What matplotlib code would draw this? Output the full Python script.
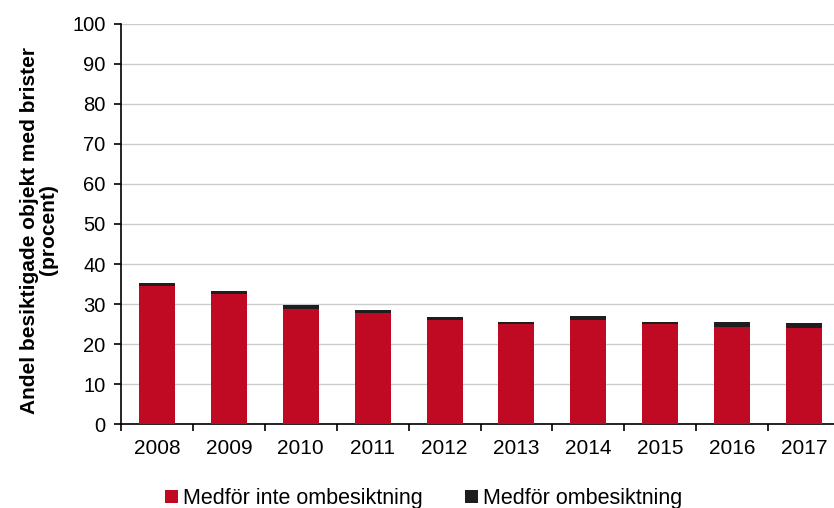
import matplotlib
matplotlib.use("Agg")
import matplotlib.pyplot as plt
import numpy as np

years = ["2008", "2009", "2010", "2011", "2012", "2013", "2014", "2015", "2016", "2017"]
no_reinspection = [34.5, 32.5, 28.8, 27.8, 26.0, 24.9, 26.0, 24.9, 24.3, 24.1]
reinspection = [0.8, 0.7, 0.9, 0.6, 0.7, 0.6, 0.9, 0.6, 1.2, 1.1]

plt.rcParams['font.family'] = ['Liberation Sans', 'DejaVu Sans']

fig = plt.figure(figsize=(8.34, 5.08), dpi=100)
ax = fig.add_axes([121/834, 84/508, 719/834, 400/508])

x = np.arange(len(years))
red = "#C00A23"
blk = "#1E1E1E"
ax.bar(x, no_reinspection, width=0.5, color=red, label="Medför inte ombesiktning", zorder=3)
ax.bar(x, reinspection, width=0.5, bottom=no_reinspection, color=blk, label="Medför ombesiktning", zorder=3)

ax.set_xlim(-0.5, len(years) - 0.5)
ax.set_ylim(0, 100)
ax.set_yticks(np.arange(0, 101, 10))
ax.tick_params(axis='y', labelsize=14.5, length=5, width=1.2, direction='out', pad=6)
ax.set_xticks(np.arange(len(years) + 1) - 0.5)
ax.set_xticklabels([])
ax.set_xticks(x, minor=True)
ax.set_xticklabels(years, minor=True)
ax.tick_params(axis='x', which='major', length=5, width=1.2, direction='out')
ax.tick_params(axis='x', which='minor', length=0, labelsize=15, pad=11)

ax.grid(axis='y', color='#CCCCCC', linewidth=1.0, zorder=0)
for s in ['top', 'right']:
    ax.spines[s].set_visible(False)
for s in ['left', 'bottom']:
    ax.spines[s].set_linewidth(1.2)
    ax.spines[s].set_color('black')

ax.set_ylabel("Andel besiktigade objekt med brister\n(procent)", fontsize=15,
              fontweight='bold', linespacing=0.95)
ax.yaxis.set_label_coords(-0.088, 0.485)

fig.legend(loc='lower center', bbox_to_anchor=(0.508, -0.04), ncol=2, frameon=False,
           fontsize=15.5, handlelength=0.6, handleheight=0.6, handletextpad=0.2,
           columnspacing=2.0)

fig.savefig("out.png", dpi=100)
